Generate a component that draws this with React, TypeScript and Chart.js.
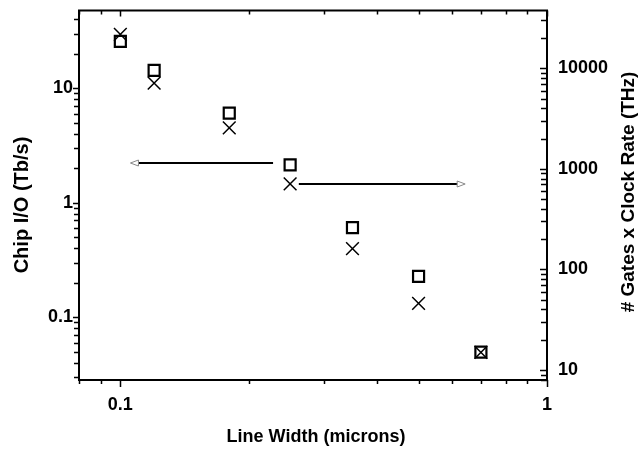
import React, { useEffect, useRef } from 'react';
import { Chart, registerables } from 'chart.js';

Chart.register(...registerables);

// ---- data ----
const lineWidths = [0.1, 0.12, 0.18, 0.25, 0.35, 0.5, 0.7];
const chipIO = [25.6, 14.3, 6.06, 2.14, 0.606, 0.227, 0.0496];
const gatesClock = [21700, 7100, 2550, 710, 161, 46, 15];
const xTickLabels = [0.1, 1];
const yLeftTickLabels = [0.1, 1, 10];
const yRightTickLabels = [10, 100, 1000, 10000];
const leftArrow = { from: 0.228, to: 0.1056, y: 2.2 }; // left axis units
const rightArrow = { from: 0.262, to: 0.643, y: 710 }; // right axis units

const X_MIN = 0.08, X_MAX = 1;
const YL_MIN = 0.0283, YL_MAX = 47.7;
const YR_MIN = 7.96, YR_MAX = 37500;

const FONT = 'Liberation Sans, Arial, sans-serif';

function logTicks(min: number, max: number) {
  const out: { v: number; major: boolean }[] = [];
  const e0 = Math.floor(Math.log10(min)) - 1;
  const e1 = Math.ceil(Math.log10(max)) + 1;
  for (let e = e0; e <= e1; e++) {
    for (let k = 1; k <= 9; k++) {
      const v = parseFloat((k * Math.pow(10, e)).toPrecision(6));
      if (v >= min * 0.9999 && v <= max * 1.0001) out.push({ v, major: k === 1 });
    }
  }
  return out;
}

const framePlugin = {
  id: 'frame',
  afterDraw(chart: any) {
    const { ctx, chartArea } = chart;
    const { left, right, top, bottom } = chartArea;
    const sx = chart.scales.x, sy = chart.scales.y, sy2 = chart.scales.y2;
    ctx.save();
    ctx.strokeStyle = '#000';
    ctx.lineWidth = 2;
    ctx.strokeRect(left, top, right - left, bottom - top);
    ctx.lineWidth = 1.5;
    ctx.beginPath();
    for (const t of logTicks(X_MIN, X_MAX)) {
      const px = Math.round(sx.getPixelForValue(t.v)) + 0.5;
      const lb = t.major ? 7 : 4;
      const lt = t.major ? 6 : 4;
      ctx.moveTo(px, bottom); ctx.lineTo(px, bottom + lb);
      ctx.moveTo(px, top); ctx.lineTo(px, top + lt);
    }
    for (const t of logTicks(YL_MIN, YL_MAX)) {
      const py = Math.round(sy.getPixelForValue(t.v)) + 0.5;
      const l = t.major ? 6 : 5;
      ctx.moveTo(left, py); ctx.lineTo(left - l, py);
    }
    for (const t of logTicks(YR_MIN, YR_MAX)) {
      const py = Math.round(sy2.getPixelForValue(t.v)) + 0.5;
      const l = t.major ? 7 : 6;
      ctx.moveTo(right, py); ctx.lineTo(right - l, py);
    }
    ctx.stroke();

    const drawArrow = (x0: number, x1: number, y: number) => {
      const dir = x1 > x0 ? 1 : -1;
      const headLen = 8;
      ctx.strokeStyle = '#000';
      ctx.lineWidth = 2;
      ctx.beginPath();
      ctx.moveTo(x0, y);
      ctx.lineTo(x1 - dir * headLen, y);
      ctx.stroke();
      ctx.strokeStyle = '#888';
      ctx.lineWidth = 1;
      ctx.beginPath();
      ctx.moveTo(x1, y);
      ctx.lineTo(x1 - dir * headLen, y - 3);
      ctx.lineTo(x1 - dir * headLen, y + 3);
      ctx.closePath();
      ctx.stroke();
    };
    drawArrow(sx.getPixelForValue(leftArrow.from), sx.getPixelForValue(leftArrow.to), Math.round(sy.getPixelForValue(leftArrow.y)));
    drawArrow(sx.getPixelForValue(rightArrow.from), sx.getPixelForValue(rightArrow.to), Math.round(sy2.getPixelForValue(rightArrow.y)));

    ctx.fillStyle = '#000';
    ctx.textAlign = 'center';
    ctx.textBaseline = 'middle';
    ctx.font = `bold 18px ${FONT}`;
    ctx.fillText('Line Width (microns)', (left + right) / 2 + 3, 437);
    ctx.font = `bold 20px ${FONT}`;
    ctx.save();
    ctx.translate(22, 205);
    ctx.rotate(-Math.PI / 2);
    ctx.fillText('Chip I/O (Tb/s)', 0, 0);
    ctx.restore();
    ctx.font = `bold 19px ${FONT}`;
    ctx.save();
    ctx.translate(629, 192);
    ctx.rotate(-Math.PI / 2);
    ctx.fillText('# Gates x Clock Rate (THz)', 0, 0);
    ctx.restore();
    ctx.restore();
  },
};

export default function App() {
  const ref = useRef<HTMLCanvasElement | null>(null);
  useEffect(() => {
    document.body.style.margin = '0';
    if (!ref.current) return;
    const tickFont = { family: FONT, size: 18, weight: 'bold' as const };
    const chart = new Chart(ref.current, {
      type: 'scatter',
      data: {
        datasets: [
          {
            label: 'Chip I/O',
            data: lineWidths.map((x, i) => ({ x, y: chipIO[i] })),
            yAxisID: 'y',
            pointStyle: 'rect',
            pointRadius: 7.8,
            borderColor: '#000',
            backgroundColor: 'rgba(0,0,0,0)',
            borderWidth: 2.2,
            showLine: false,
          },
          {
            label: '# Gates x Clock Rate',
            data: lineWidths.map((x, i) => ({ x, y: gatesClock[i] })),
            yAxisID: 'y2',
            pointStyle: 'crossRot',
            pointRadius: 9,
            borderColor: '#000',
            backgroundColor: 'rgba(0,0,0,0)',
            borderWidth: 1.5,
            showLine: false,
          },
        ],
      },
      options: {
        animation: false,
        responsive: false,
        events: [],
        layout: { padding: { top: 9, left: 0, right: 0, bottom: 0 } },
        plugins: { legend: { display: false }, tooltip: { enabled: false } },
        scales: {
          x: {
            type: 'logarithmic',
            min: X_MIN,
            max: X_MAX,
            grid: { display: false, drawTicks: false },
            border: { display: false },
            afterBuildTicks: (s: any) => { s.ticks = xTickLabels.map((v) => ({ value: v })); },
            afterFit: (s: any) => { s.height = 72; s.paddingLeft = 0; s.paddingRight = 0; },
            ticks: { font: tickFont, color: '#000', padding: 14, autoSkip: false, maxRotation: 0, callback: (v: any) => String(v) },
          },
          y: {
            type: 'logarithmic',
            position: 'left',
            min: YL_MIN,
            max: YL_MAX,
            grid: { display: false, drawTicks: false },
            border: { display: false },
            afterBuildTicks: (s: any) => { s.ticks = yLeftTickLabels.map((v) => ({ value: v })); },
            afterFit: (s: any) => { s.width = 79; s.paddingTop = 0; s.paddingBottom = 0; },
            ticks: { font: tickFont, color: '#000', padding: 6, autoSkip: false, callback: (v: any) => String(v) },
          },
          y2: {
            type: 'logarithmic',
            position: 'right',
            min: YR_MIN,
            max: YR_MAX,
            grid: { display: false, drawTicks: false },
            border: { display: false },
            afterBuildTicks: (s: any) => { s.ticks = yRightTickLabels.map((v) => ({ value: v })); },
            afterFit: (s: any) => { s.width = 95; s.paddingTop = 0; s.paddingBottom = 0; },
            ticks: { font: tickFont, color: '#000', padding: 11, autoSkip: false, callback: (v: any) => String(v) },
          },
        },
      },
      plugins: [framePlugin],
    });
    return () => chart.destroy();
  }, []);
  return (
    <div style={{ width: 642, height: 452 }}>
      <canvas ref={ref} width={642} height={452} />
    </div>
  );
}
